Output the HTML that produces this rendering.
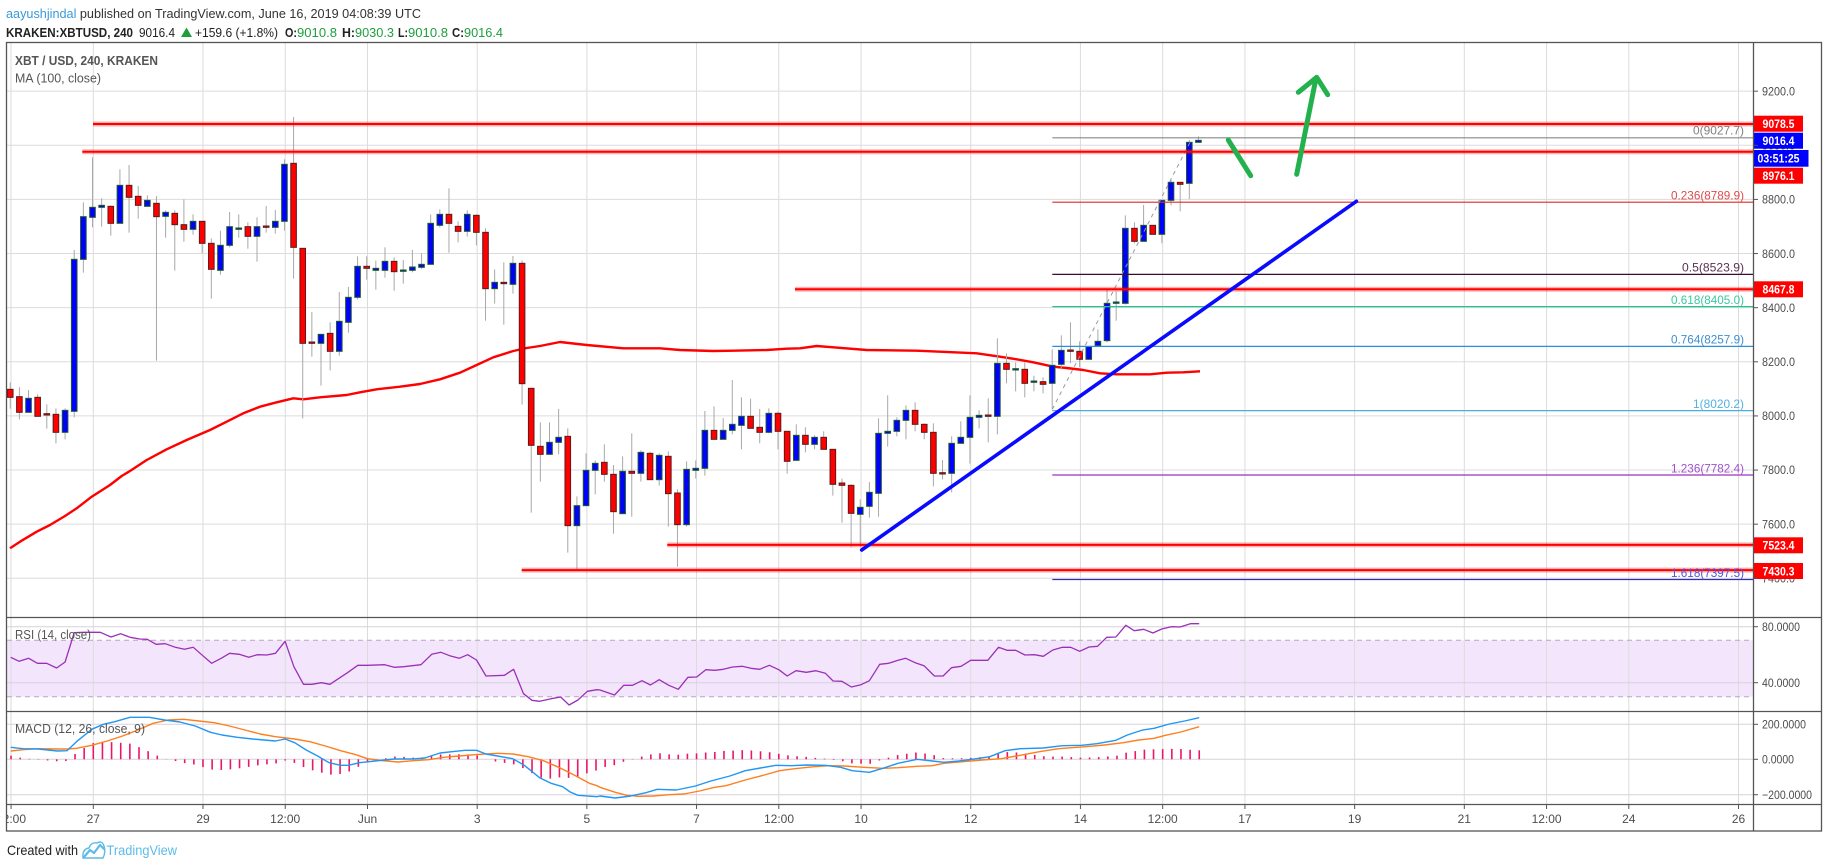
<!DOCTYPE html>
<html><head><meta charset="utf-8">
<style>
html,body{margin:0;padding:0;background:#fff;}
svg{display:block;font-family:"Liberation Sans",Arial,sans-serif;}
</style></head><body>
<svg id="s" width="1828" height="868" viewBox="0 0 1828 868" xmlns="http://www.w3.org/2000/svg">
<defs>
<clipPath id="cm"><rect x="7" y="43" width="1746" height="574"/></clipPath>
<clipPath id="cr"><rect x="7" y="618" width="1746" height="93"/></clipPath>
<clipPath id="cd"><rect x="7" y="712" width="1746" height="92"/></clipPath>
<clipPath id="ct"><rect x="7" y="805" width="1746" height="26"/></clipPath>
</defs>
<rect width="1828" height="868" fill="#fff"/>

<rect x="7" y="640.3" width="1746" height="56.4" fill="#f3e6fc"/>
<g id="grid"></g>
<line x1="7" y1="640.3" x2="1753" y2="640.3" stroke="#b4aabb" stroke-width="1" stroke-dasharray="5,4"/>
<line x1="7" y1="696.7" x2="1753" y2="696.7" stroke="#b4aabb" stroke-width="1" stroke-dasharray="5,4"/>

<g id="main" clip-path="url(#cm)"></g>
<g id="rsi" clip-path="url(#cr)"></g>
<g id="macd" clip-path="url(#cd)"></g>

<text x="6" y="18" font-size="13" textLength="415" lengthAdjust="spacingAndGlyphs"><tspan fill="#3a9ad9">aayushjindal</tspan><tspan fill="#333"> published on TradingView.com, June 16, 2019 04:08:39 UTC</tspan></text>
<g font-size="13" fill="#222">
<text x="6" y="37" font-weight="bold" textLength="127" lengthAdjust="spacingAndGlyphs">KRAKEN:XBTUSD, 240</text>
<text x="139" y="37" textLength="36" lengthAdjust="spacingAndGlyphs">9016.4</text>
<text x="195" y="37" textLength="83" lengthAdjust="spacingAndGlyphs">+159.6 (+1.8%)</text>
<text x="285" y="37" font-weight="bold" textLength="12" lengthAdjust="spacingAndGlyphs">O:</text>
<text x="297" y="37" fill="#1e9e3c" textLength="40" lengthAdjust="spacingAndGlyphs">9010.8</text>
<text x="342" y="37" font-weight="bold" textLength="13" lengthAdjust="spacingAndGlyphs">H:</text>
<text x="355" y="37" fill="#1e9e3c" textLength="39" lengthAdjust="spacingAndGlyphs">9030.3</text>
<text x="398" y="37" font-weight="bold" textLength="10" lengthAdjust="spacingAndGlyphs">L:</text>
<text x="408" y="37" fill="#1e9e3c" textLength="40" lengthAdjust="spacingAndGlyphs">9010.8</text>
<text x="452" y="37" font-weight="bold" textLength="12" lengthAdjust="spacingAndGlyphs">C:</text>
<text x="464" y="37" fill="#1e9e3c" textLength="39" lengthAdjust="spacingAndGlyphs">9016.4</text>
</g>
<polygon points="181,37 192,37 186.5,27.5" fill="#1e9e3c"/>

<text x="15" y="65" font-size="13" font-weight="bold" fill="#555" textLength="143" lengthAdjust="spacingAndGlyphs">XBT / USD, 240, KRAKEN</text>
<text x="15" y="82.5" font-size="13" fill="#555" textLength="86" lengthAdjust="spacingAndGlyphs">MA (100, close)</text>
<text x="15" y="639" font-size="13" fill="#555" textLength="76" lengthAdjust="spacingAndGlyphs">RSI (14, close)</text>
<text x="15" y="733" font-size="13" fill="#555" textLength="130" lengthAdjust="spacingAndGlyphs">MACD (12, 26, close, 9)</text>

<g font-size="12" text-anchor="end">
<text x="1744" y="134.5" fill="#808080" textLength="51" lengthAdjust="spacingAndGlyphs">0(9027.7)</text>
<text x="1744" y="199.5" fill="#dc4a4a" textLength="73" lengthAdjust="spacingAndGlyphs">0.236(8789.9)</text>
<text x="1744" y="271.5" fill="#5a3050" textLength="62" lengthAdjust="spacingAndGlyphs">0.5(8523.9)</text>
<text x="1744" y="303.8" fill="#3cc8a0" textLength="73" lengthAdjust="spacingAndGlyphs">0.618(8405.0)</text>
<text x="1744" y="343.5" fill="#3d8fd0" textLength="73" lengthAdjust="spacingAndGlyphs">0.764(8257.9)</text>
<text x="1744" y="408" fill="#55b0e0" textLength="51" lengthAdjust="spacingAndGlyphs">1(8020.2)</text>
<text x="1744" y="472.5" fill="#a050d0" textLength="73" lengthAdjust="spacingAndGlyphs">1.236(7782.4)</text>
<text x="1744" y="577" fill="#5555dd" textLength="73" lengthAdjust="spacingAndGlyphs">1.618(7397.5)</text>
</g>

<g font-size="12" fill="#4d4d4d">
<text x="1762" y="95.5" textLength="33" lengthAdjust="spacingAndGlyphs">9200.0</text>
<text x="1762" y="149.5" textLength="33" lengthAdjust="spacingAndGlyphs">9000.0</text>
<text x="1762" y="203.7" textLength="33" lengthAdjust="spacingAndGlyphs">8800.0</text>
<text x="1762" y="257.8" textLength="33" lengthAdjust="spacingAndGlyphs">8600.0</text>
<text x="1762" y="311.9" textLength="33" lengthAdjust="spacingAndGlyphs">8400.0</text>
<text x="1762" y="366" textLength="33" lengthAdjust="spacingAndGlyphs">8200.0</text>
<text x="1762" y="420.1" textLength="33" lengthAdjust="spacingAndGlyphs">8000.0</text>
<text x="1762" y="474.2" textLength="33" lengthAdjust="spacingAndGlyphs">7800.0</text>
<text x="1762" y="528.4" textLength="33" lengthAdjust="spacingAndGlyphs">7600.0</text>
<text x="1762" y="582.5" textLength="33" lengthAdjust="spacingAndGlyphs">7400.0</text>
<text x="1762" y="631" textLength="38" lengthAdjust="spacingAndGlyphs">80.0000</text>
<text x="1762" y="687" textLength="38" lengthAdjust="spacingAndGlyphs">40.0000</text>
<text x="1762" y="728.5" textLength="44" lengthAdjust="spacingAndGlyphs">200.0000</text>
<text x="1762" y="763.5" textLength="32" lengthAdjust="spacingAndGlyphs">0.0000</text>
<text x="1762" y="799" textLength="50" lengthAdjust="spacingAndGlyphs">−200.0000</text>
</g>

<g font-size="12" font-weight="bold" fill="#fff">
<rect x="1753.5" y="115.7" width="49.5" height="16" fill="#ff0000"/>
<text x="1762.5" y="128" textLength="32" lengthAdjust="spacingAndGlyphs">9078.5</text>
<rect x="1753.5" y="132.7" width="49.5" height="16" fill="#0000ff"/>
<text x="1762.5" y="145" textLength="32" lengthAdjust="spacingAndGlyphs">9016.4</text>
<rect x="1753.5" y="150" width="55" height="16.7" fill="#0000ff"/>
<text x="1757.5" y="162.5" textLength="42" lengthAdjust="spacingAndGlyphs">03:51:25</text>
<rect x="1753.5" y="167.7" width="49.5" height="16" fill="#ff0000"/>
<text x="1762.5" y="180" textLength="32" lengthAdjust="spacingAndGlyphs">8976.1</text>
<rect x="1753.5" y="281.3" width="49.5" height="16" fill="#ff0000"/>
<text x="1762.5" y="293.6" textLength="32" lengthAdjust="spacingAndGlyphs">8467.8</text>
<rect x="1753.5" y="537.3" width="49.5" height="16" fill="#ff0000"/>
<text x="1762.5" y="549.6" textLength="32" lengthAdjust="spacingAndGlyphs">7523.4</text>
<rect x="1753.5" y="563" width="49.5" height="16" fill="#ff0000"/>
<text x="1762.5" y="575.3" textLength="32" lengthAdjust="spacingAndGlyphs">7430.3</text>
</g>

<g font-size="12" fill="#4d4d4d" text-anchor="middle" clip-path="url(#ct)">
<text x="11" y="823">12:00</text>
<text x="93.3" y="823">27</text>
<text x="203" y="823">29</text>
<text x="285.2" y="823">12:00</text>
<text x="367.5" y="823">Jun</text>
<text x="477.2" y="823">3</text>
<text x="586.9" y="823">5</text>
<text x="696.5" y="823">7</text>
<text x="779" y="823">12:00</text>
<text x="861.1" y="823">10</text>
<text x="970.7" y="823">12</text>
<text x="1080.4" y="823">14</text>
<text x="1162.7" y="823">12:00</text>
<text x="1244.9" y="823">17</text>
<text x="1354.6" y="823">19</text>
<text x="1464.3" y="823">21</text>
<text x="1546.6" y="823">12:00</text>
<text x="1628.8" y="823">24</text>
<text x="1738.5" y="823">26</text>
</g>

<g stroke="#555" stroke-width="1.3" fill="none">
<rect x="6.5" y="42.5" width="1815" height="788.5"/>
<line x1="1753.5" y1="42.5" x2="1753.5" y2="831"/>
<line x1="6.5" y1="617.5" x2="1821.5" y2="617.5"/>
<line x1="6.5" y1="711.5" x2="1821.5" y2="711.5"/>
<line x1="6.5" y1="804.5" x2="1821.5" y2="804.5"/>
</g>
<g id="ticks"></g>

<text x="7" y="855" font-size="14" fill="#222" textLength="71" lengthAdjust="spacingAndGlyphs">Created with</text>
<g fill="none" stroke="#5cbbe8" stroke-width="2.2" stroke-linejoin="round" stroke-linecap="round">
<path d="M84,857 L90,850 L94,853 L100,845 L104,849"/>
<path d="M83,858 Q82,849 89,848 Q91,842 97,843 Q102,840 104,846 Q106,852 103,858 Z" stroke-width="1.4"/>
</g>
<text x="106.5" y="855" font-size="14" fill="#5cbbe8" textLength="70.5" lengthAdjust="spacingAndGlyphs">TradingView</text>
</svg>

<script>
(function(){
var NS="http://www.w3.org/2000/svg";
function el(p,t,a){var e=document.createElementNS(NS,t);for(var k in a)e.setAttribute(k,a[k]);p.appendChild(e);return e;}
var X0=93.3,D=54.84;
function cx(i){return X0+D*(i-10)/6;}
var grid=document.getElementById('grid'),main=document.getElementById('main'),rsi=document.getElementById('rsi'),macd=document.getElementById('macd'),ticks=document.getElementById('ticks');
var ts=[-1.5,0,2,3.5,5,7,9,11,12.5,14,16,18,19.5,21,23,25,26.5,28,30];
ts.forEach(function(t){var x=X0+D*t;
 el(grid,'line',{x1:x,y1:43,x2:x,y2:804,stroke:'#dcdcdc','stroke-width':1});
 if(x>7) el(ticks,'line',{x1:x,y1:805,x2:x,y2:809,stroke:'#555','stroke-width':1});
});
function yp(p){return 145.3+(9000-p)*0.270625;}
for(var p=7400;p<=9200;p+=200){var y=yp(p);
 el(grid,'line',{x1:7,y1:y,x2:1753,y2:y,stroke:'#dcdcdc','stroke-width':1});
 el(ticks,'line',{x1:1753.5,y1:y,x2:1758,y2:y,stroke:'#555','stroke-width':1});}
[626.7,682.7,724.3,759.3,794.7].forEach(function(y){
 el(grid,'line',{x1:7,y1:y,x2:1753,y2:y,stroke:'#d8d0dc','stroke-width':1});
 el(ticks,'line',{x1:1753.5,y1:y,x2:1758,y2:y,stroke:'#555','stroke-width':1});});

var MA=[[10,548.3],[20,541.7],[36.7,531.7],[50,525],[65,516],[76.7,508.3],[91.7,496.7],[110,485],[121.7,476],[130,471],[146.7,460],[166.7,449.3],[186.7,440],[210,430],[226.7,421.7],[243.3,413.3],[260,406.7],[276.7,402.3],[293.3,398.3],[303.3,399.3],[320,397.3],[346.7,395],[360,392.3],[376.7,389.3],[400,386.7],[420,384],[440,379.3],[460,372.7],[476.7,365],[493.3,357.3],[513.3,351],[526.7,348],[540,346],[560,342],[586.7,345],[623.3,348.3],[660,348.3],[680,350],[713.3,351],[733.3,350.7],[766.7,350],[786.7,348.7],[800,348.3],[816.7,346],[833.3,347.3],[866.7,350],[916.7,350.7],[940,351.7],[976.7,353.3],[1000,356.7],[1016.7,359.3],[1033.3,362.3],[1053.3,366.7],[1066.7,368],[1083.3,370],[1100,373.3],[1116.7,374.3],[1150,374.3],[1166.7,372.7],[1183.3,372.3],[1200,371.3]];
el(main,'polyline',{points:MA.map(function(q){return q.join(',');}).join(' '),fill:'none',stroke:'#ff0000','stroke-width':2.4,'stroke-linejoin':'round'});

var A=[['d',748,772,727,806],['d',770,817,742,838],['u',775,817,750,817],['d',772,829,763,829],['d',821,825,793,866],['d',823,877,805,910],['u',811,877,805,898],['u',358,814,330,832],['u',230,358,187,398],['u',202,232,52,262],['u',196,202,175,260],['d',199,250,196,287],['u',136,250,88,250],['d',136,172,75,278],['d',169,196,138,236],['u',181,199,166,199],['d',190,230,168,662],['u',217,229,211,293],['d',220,254,211,392],['d',254,268,178,305],['u',244,268,223,284],['d',244,310,244,340],['d',310,388,295,476],['u',316,391,272,404],['u',260,316,216,322],['u',264,268,223,293],['d',260,289,247,326],['u',260,289,232,365],['d',258,262,198,278],['u',244,262,210,281],['u',73,244,58,272],['d',70,322,-69,416],['d',325,610,325,836],['d',606,610,516,650],['u',583,610,583,737],['d',580,634,547,691],['u',544,634,456,647],['u',472,547,441,578],['u',379,472,349,478],['d',379,385,349,419],['u',385,391,362,449],['u',364,391,322,413],['d',364,395,352,452]];
var B=[['u',390,394,360,431],['u',381,391,330,397],['u',373,382,340,387],['u',250,373,223,373],['u',223,256,208,262],['d',223,250,145,338],['d',259,274,244,307],['u',223,274,211,290],['d',226,277,223,316],['d',277,446,265,542],['u',427,446,388,491],['d',427,431,367,554],['u',370,433,348,461],['d',370,731,361,794],['d',745,916,743,1118],['d',919,943,847,1025],['u',907,943,847,943],['u',892,907,807,943],['d',889,1157,865,1238],['u',1097,1157,1069,1290],['u',991,1097,940,1097],['u',970,991,961,1063],['d',967,1003,913,1025],['d',1003,1115,975,1181],['u',994,1121,949,1121],['d',994,1000,880,1130],['u',937,1000,931,1025],['d',940,1019,935,1019],['u',946,1019,940,1037],['d',949,1061,934,1160],['d',1059,1154,1048,1280],['u',988,1154,964,1160],['u',985,991,961,1016],['u',871,985,813,1007],['d',871,898,799,898],['u',871,898,834,898],['u',853,871,720,883],['u',829,856,772,928],['d',829,865,776,865],['d',862,877,807,910],['u',820,877,805,880],['d',820,874,815,928],['d',874,964,874,1001],['u',886,961,853,961],['d',886,913,862,937]];
var C=[['u',922,943,916,958],['d',922,958,904,958],['d',958,1063,958,1097],['d',1059,1066,1046,1178],['d',1066,1150,1063,1252],['u',1132,1153,1108,1250],['u',1087,1129,1056,1163],['u',910,1090,865,1160],['u',904,910,796,950],['u',871,904,862,919],['u',841,871,826,928],['d',841,883,817,904],['d',883,907,880,928],['d',907,1030,880,1069],['d',1028,1032,990,1048],['u',940,1030,919,1087],['u',922,940,874,940],['u',862,922,796,1001],['u',856,862,840,895],['d',855,859,805,937],['u',700,859,625,913],['d',700,718,670,760],['u',716,720,697,784],['d',718,760,697,802],['u',753,757,737,784],['d',755,763,742,790],['u',706,760,658,838],['u',661,703,616,718],['d',660,664,577,700],['d',664,688,634,712],['u',650,688,650,690],['u',634,647,598,650],['u',520,632,480,637],['u',516,520,484,572],['u',295,520,256,524],['d',295,334,277,340],['u',286,334,225,334],['d',286,313,286,313],['u',211,313,211,340],['u',157,211,150,226],['d',157,163,157,244],['u',37,160,30,207],['u',31,37,19,37]];
var all=[];
A.forEach(function(c){all.push([c[0],140+c[1]/3,140+c[2]/3,140+c[3]/3,140+c[4]/3]);});
B.forEach(function(c){all.push([c[0],140+c[1]/3,140+c[2]/3,140+c[3]/3,140+c[4]/3]);});
C.forEach(function(c){all.push([c[0],130+c[1]/3,130+c[2]/3,130+c[3]/3,130+c[4]/3]);});
all.forEach(function(c,k){var i=k+1,x=cx(i)-0.8;
 el(main,'line',{x1:x,y1:c[3],x2:x,y2:c[4],stroke:'#a8a8a8','stroke-width':1});
 var h=Math.max(c[2]-c[1],1.2);
 var up=c[0]==='u';
 el(main,'rect',{x:x-2.8,y:c[1],width:5.6,height:h,fill:up?'#0000ff':'#ff0000',stroke:up?'#1e5a2a':'#5a1a1a','stroke-width':1});
});

var fib=[[137.8,'#888888'],[202.2,'#e02828'],[274.4,'#3d0a30'],[306.6,'#22c493'],[346.4,'#2a90d8'],[410.6,'#4aaee0'],[475,'#9a30c0'],[579.5,'#3030b0']];
fib.forEach(function(f){el(main,'line',{x1:1052.3,y1:f[0],x2:1753,y2:f[0],stroke:f[1],'stroke-width':1.2});});
el(main,'line',{x1:1052.3,y1:409.3,x2:1190,y2:142.3,stroke:'#999','stroke-width':1,'stroke-dasharray':'4,4'});

[[93,124.06],[82.3,151.8],[795,289.3],[667.3,544.9],[521.7,570.1]].forEach(function(r){
 el(main,'line',{x1:r[0],y1:r[1],x2:1753,y2:r[1],stroke:'rgba(255,0,0,0.3)','stroke-width':5});
 el(main,'line',{x1:r[0],y1:r[1],x2:1753,y2:r[1],stroke:'#ff0000','stroke-width':2});
});

el(main,'line',{x1:861.7,y1:550,x2:1356.4,y2:201.3,stroke:'#0a0aff','stroke-width':3.6,'stroke-linecap':'round'});
function gp(d){el(main,'path',{d:d,fill:'none',stroke:'#22b14c','stroke-width':5,'stroke-linecap':'round','stroke-linejoin':'round'});}
gp('M1228.3,140 L1250.7,175.7');
gp('M1296.7,174.3 L1316,78.3');
gp('M1298.3,92.3 L1316.7,77.3 L1327.7,94.7');

var rA=[[28,412],[50,424],[75,415],[98,430],[122,430],[148,444],[170,426],[194,338],[220,337],[262,337],[290,351],[315,341],[340,352],[365,357],[385,358],[408,373],[432,371],[458,382],[482,388],[505,382],[530,407],[553,430],[578,415],[600,400],[625,403],[650,412],[672,404],[697,405],[720,400],[745,364],[768,440],[793,493],[815,493],[840,488],[862,493],[908,458],[935,436],[960,436],[1005,434],[1030,442],[1055,440],[1100,434],[1128,403],[1152,397],[1175,407],[1200,415],[1222,404],[1245,420],[1270,468],[1318,466],[1342,448],[1368,521],[1390,541],[1410,544],[1440,536],[1465,531],[1487,555],[1510,540],[1535,514],[1560,509]];
var rB=[[0,510],[38,525],[62,496],[85,496],[110,482],[132,495],[155,479],[180,496],[205,508],[230,472],[253,471],[277,449],[300,451],[323,448],[347,441],[372,439],[395,445],[418,448],[443,436],[468,449],[490,468],[513,452],[540,457],[565,452],[590,460],[610,483],[633,484],[658,501],[683,494],[705,482],[732,433],[755,430],[780,421],[800,415],[825,428],[848,437],[875,468],[898,468],[920,443],[945,439],[970,421],[993,421],[1015,421],[1043,382],[1065,391],[1088,391],[1112,405],[1137,404],[1160,409],[1185,390],[1210,382],[1232,382],[1255,394],[1280,381],[1302,379],[1326,352],[1350,351],[1376,316],[1398,332],[1423,328],[1447,339],[1470,327],[1495,320],[1518,321],[1545,311],[1568,311]];
function cvA(a){return a.map(function(q){return [q[0]/2.613,520+q[1]/3];});}
function cvB(a){return a.map(function(q){return [600+q[0]/2.617,520+q[1]/3];});}
function pts(a){return a.map(function(q){return q[0].toFixed(1)+','+q[1].toFixed(1);}).join(' ');}
var rsiPts=cvA(rA).concat(cvB(rB));
el(rsi,'polyline',{points:pts(rsiPts),fill:'none',stroke:'#9b30b8','stroke-width':1.3,'stroke-linejoin':'round'});

var bA=[[28,682],[60,686],[100,687],[150,693],[175,692],[200,665],[240,628],[270,613],[300,605],[340,592],[390,592],[430,600],[470,606],[510,618],[550,637],[580,645],[620,652],[660,657],[720,663],[745,657],[770,668],[800,690],[830,708],[860,728],[890,736],[910,736],[940,728],[980,723],[1030,717],[1080,717],[1110,714],[1150,699],[1190,694],[1215,691],[1245,691],[1270,702],[1300,708],[1340,716],[1370,736],[1410,773],[1440,790],[1470,800],[1490,816],[1510,826],[1560,830]];
var oA=[[28,693],[60,689],[100,686],[150,687],[175,687],[200,685],[240,676],[280,663],[320,648],[360,630],[400,610],[440,600],[480,598],[520,603],[560,608],[600,618],[640,630],[680,642],[720,650],[770,657],[810,665],[850,678],[890,692],[930,704],[960,716],[1000,722],[1040,726],[1080,722],[1120,719],[1160,712],[1200,708],[1240,704],[1300,700],[1340,702],[1380,710],[1420,722],[1460,742],[1500,765],[1540,790],[1560,797]];
var bB=[[0,828],[40,834],[80,828],[120,818],[150,808],[200,810],[250,798],[290,783],[340,768],[380,752],[420,744],[460,736],[500,737],[540,735],[590,736],[630,742],[660,752],[705,757],[740,745],[780,730],[830,718],[870,723],[900,727],[940,723],[980,717],[1020,710],[1060,692],[1100,686],[1160,684],[1210,677],[1260,676],[1300,671],[1350,661],[1380,645],[1420,630],[1450,625],[1490,612],[1530,603],[1568,593]];
var oB=[[0,802],[40,817],[70,826],[100,829],[140,828],[180,824],[220,822],[260,813],[300,802],[330,797],[380,780],[430,765],[470,752],[510,746],[560,740],[600,737],[640,738],[690,742],[740,745],[780,743],[830,739],[870,737],[900,730],[950,725],[1000,720],[1050,716],[1100,706],[1150,695],[1200,686],[1270,680],[1320,675],[1370,668],[1410,660],[1450,655],[1480,646],[1520,636],[1568,620]];
var blue=cvA(bA).concat(cvB(bB)),orng=cvA(oA).concat(cvB(oB));
function interp(arr,x){if(x<=arr[0][0])return arr[0][1];for(var k=1;k<arr.length;k++){if(x<=arr[k][0]){var a=arr[k-1],b=arr[k];return a[1]+(b[1]-a[1])*(x-a[0])/(b[0]-a[0]);}}return arr[arr.length-1][1];}
for(var i=1;i<=131;i++){var x=cx(i);var h=759.3+(interp(blue,x)-interp(orng,x));
 el(macd,'line',{x1:x,y1:759.3,x2:x,y2:h,stroke:'#ee1466','stroke-width':1.6});}
el(macd,'polyline',{points:pts(orng),fill:'none',stroke:'#ff7f1e','stroke-width':1.4,'stroke-linejoin':'round'});
el(macd,'polyline',{points:pts(blue),fill:'none',stroke:'#2196f3','stroke-width':1.4,'stroke-linejoin':'round'});
})();
</script>
</body></html>
